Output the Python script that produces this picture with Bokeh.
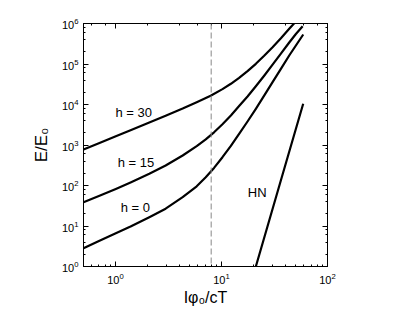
from bokeh.plotting import figure
from bokeh.models import LogAxis, Label, Span, CustomJSTickFormatter, LogTicker
from bokeh.embed import file_html
from bokeh.resources import INLINE

# ---- data ----
h30_x = [0.5, 0.7076, 1.0087, 1.389, 2.087, 2.975, 4.307, 5.841, 7.905, 10.22,
         12.27, 14.67, 17.61, 21.10, 25.27, 30.34, 36.35, 43.55, 49.62]
h30_y = [774, 1127, 1640, 2320, 3594, 5290, 7922, 11330, 16490, 24000,
         32440, 45630, 66770, 101100, 159400, 259900, 431000, 739800, 1077000]

h15_x = [0.5, 0.7076, 1.0087, 1.389, 2.087, 2.975, 4.307, 5.841, 7.107, 8.512, 10.22,
         12.27, 14.67, 17.61, 21.10, 25.27, 30.34, 36.35, 43.55, 50.34, 58.29]
h15_y = [38.7, 56.0, 82.4, 119.3, 195.6, 311.8, 550.6, 939.3, 1382, 2058, 3244,
         5350, 9131, 15760, 28140, 51420, 96090, 179600, 339600, 550600, 852900]

h0_x = [0.5, 0.7076, 1.0087, 1.389, 2.087, 2.975, 4.307, 5.841, 7.107, 8.512, 10.22,
        12.27, 14.67, 17.61, 21.10, 25.27, 30.34, 36.35, 43.55, 50.34, 59.06]
h0_y = [2.814, 4.335, 6.642, 9.665, 16.50, 26.74, 51.42, 95.55, 160.3, 272.0, 499.7,
        950.2, 1890, 3804, 7832, 16590, 35530, 76110, 162200, 286300, 535000]

hn_x = [21.1, 36.3, 59.0]
hn_y = [1, 132.8, 10400]

dash_x = 8.0

labels = ["h = 30", "h = 15", "h = 0", "HN"]
label_x = [1.0, 1.05, 1.12, 17.7]
label_y = [6300, 370, 28.6, 67]

FONT = "Liberation Sans"

p = figure(frame_width=244, frame_height=243,
           x_axis_type="log", y_axis_type="log",
           x_range=(0.5, 100), y_range=(1, 1e6),
           output_backend="svg", toolbar_location=None,
           min_border_left=83, min_border_top=23,
           min_border_right=55, min_border_bottom=45)

p.xgrid.visible = False
p.ygrid.visible = False
p.outline_line_color = "black"
p.outline_line_width = 1
p.background_fill_color = "white"
p.border_fill_color = "white"

for x, y in [(h30_x, h30_y), (h15_x, h15_y), (h0_x, h0_y), (hn_x, hn_y)]:
    p.line(x, y, line_color="black", line_width=2.2, line_join="round")

p.add_layout(Span(location=dash_x, dimension="height", line_color="#888888",
                  line_width=1, line_dash="6 3"))

for t, x, y in zip(labels, label_x, label_y):
    p.add_layout(Label(x=x, y=y, text=t, text_font=FONT, text_font_size="13px",
                       text_baseline="middle", text_align="left", text_color="black"))

p.yaxis.ticker = LogTicker(desired_num_ticks=7)

def style(ax):
    ax.major_tick_in = 5
    ax.major_tick_out = 0
    ax.minor_tick_in = 2
    ax.minor_tick_out = 0
    ax.axis_line_color = "black"
    ax.major_tick_line_color = "black"
    ax.minor_tick_line_color = "black"
    ax.major_label_text_font = FONT
    ax.major_label_text_font_size = "11px"
    ax.major_label_text_color = "black"
    ax.axis_label_text_font = FONT
    ax.axis_label_text_font_size = "16px"
    ax.axis_label_text_font_style = "normal"
    ax.axis_label_text_color = "black"

style(p.xaxis[0])
style(p.yaxis[0])
p.xaxis.axis_label = "Iφ₀/cT"
p.yaxis.axis_label = "E/E₀"
p.yaxis.axis_label_text_font_size = "17px"
p.xaxis.major_label_standoff = 6
p.yaxis.major_label_standoff = 5
p.xaxis.axis_label_standoff = 2
p.yaxis.axis_label_standoff = 8

blank = CustomJSTickFormatter(code="return ''")
top = LogAxis(formatter=blank, major_label_standoff=0)
right = LogAxis(formatter=blank, major_label_standoff=0, ticker=LogTicker(desired_num_ticks=7))
style(top)
style(right)
p.add_layout(top, "above")
p.add_layout(right, "right")

open("out.html", "w").write(file_html(p, INLINE))
